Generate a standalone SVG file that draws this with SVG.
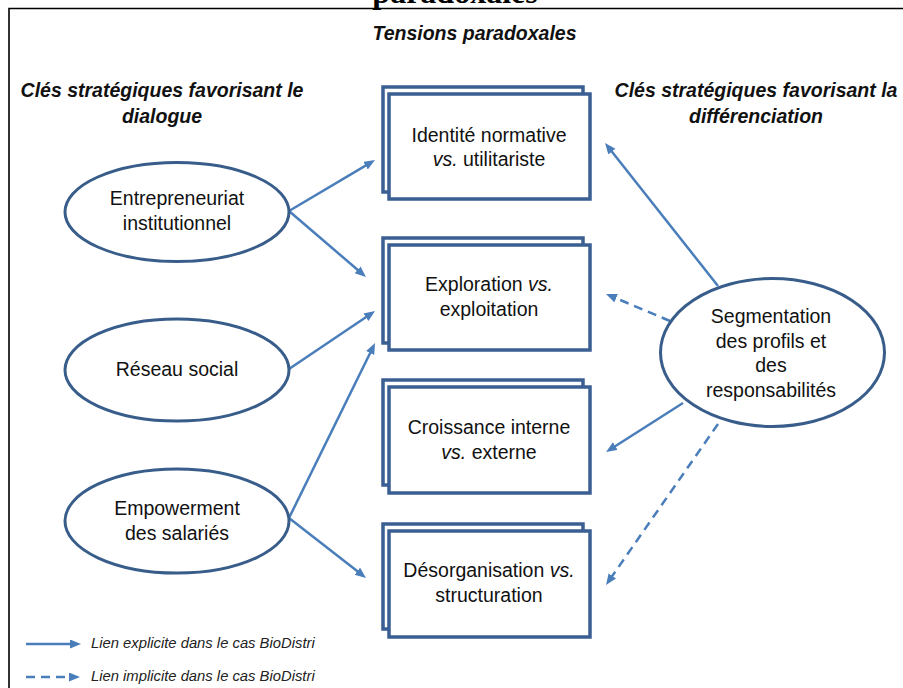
<svg xmlns="http://www.w3.org/2000/svg" width="903" height="688" viewBox="0 0 903 688">
<defs>
<marker id="ah" markerUnits="userSpaceOnUse" markerWidth="12" markerHeight="10" refX="3" refY="4.5" orient="auto">
<path d="M0,0 L11,4.5 L0,9 z" fill="#4A7EBB"/>
</marker>
<style>
.frame{stroke:#000;stroke-width:1.6;fill:none}
.head{font-family:"Liberation Sans",Arial,sans-serif;font-weight:bold;font-style:italic;font-size:19.5px;fill:#111;text-anchor:middle}
.lbl{font-family:"Liberation Sans",Arial,sans-serif;font-size:19.5px;fill:#111;text-anchor:middle}
.it{font-style:italic}
.ell{fill:#fff;stroke:#385D8A;stroke-width:3}
.box{fill:#fff;stroke:#3B5F92;stroke-width:3.5}
.con{stroke:#4A7EBB;stroke-width:2.5;fill:none;marker-end:url(#ah)}
.dash{stroke-dasharray:9,6}
.leg{font-family:"Liberation Sans",Arial,sans-serif;font-style:italic;font-size:14.8px;fill:#222}
</style>
</defs>
<rect width="903" height="688" fill="#fff"/>
<text x="455" y="3" font-family="Liberation Serif,Times New Roman,serif" font-weight="bold" font-size="32" text-anchor="middle" fill="#000">paradoxales</text>
<path class="frame" d="M9,688 L9,8.5 L903,8.5"/>

<text class="head" x="474.5" y="40">Tensions paradoxales</text>
<text class="head" x="162" y="97">Clés stratégiques  favorisant le</text>
<text class="head" x="162" y="123">dialogue</text>
<text class="head" x="756" y="97">Clés stratégiques  favorisant la</text>
<text class="head" x="756" y="123">différenciation</text>

<g id="connectors">
<line class="con" x1="289" y1="211" x2="368.1" y2="164.1"/>
<line class="con" x1="289" y1="211" x2="359.9" y2="271.8"/>
<line class="con" x1="289" y1="369" x2="368.4" y2="315.5"/>
<line class="con" x1="289" y1="518" x2="371.5" y2="350.2"/>
<line class="con" x1="289" y1="518" x2="359.7" y2="573.1"/>
<line class="con" x1="718" y1="286" x2="610" y2="149.3"/>
<line class="con dash" x1="670" y1="321" x2="613.4" y2="297.1"/>
<line class="con" x1="683" y1="403" x2="612.8" y2="447.7"/>
<line class="con dash" x1="718" y1="424" x2="610.6" y2="578.4"/>
</g>

<g id="n-entrepreneuriat">
<ellipse class="ell" cx="177" cy="212" rx="112" ry="49.5"/>
<text class="lbl" x="177" y="205">Entrepreneuriat</text>
<text class="lbl" x="177" y="230">institutionnel</text>
</g>
<g id="n-reseau">
<ellipse class="ell" cx="177" cy="370" rx="112" ry="51"/>
<text class="lbl" x="177" y="376">Réseau social</text>
</g>
<g id="n-empowerment">
<ellipse class="ell" cx="177" cy="521" rx="112" ry="52"/>
<text class="lbl" x="177" y="515">Empowerment</text>
<text class="lbl" x="177" y="540">des salariés</text>
</g>
<g id="n-segmentation">
<ellipse class="ell" cx="772.5" cy="352.5" rx="112" ry="74"/>
<text class="lbl" x="771" y="323">Segmentation</text>
<text class="lbl" x="771" y="348">des profils et</text>
<text class="lbl" x="771" y="372">des</text>
<text class="lbl" x="771" y="397">responsabilités</text>
</g>

<g id="b-identite">
<rect class="box" x="383" y="87" width="200" height="105"/>
<rect class="box" x="389" y="94" width="201" height="105"/>
<text class="lbl" x="489" y="142">Identité normative</text>
<text class="lbl" x="489" y="166"><tspan class="it">vs.</tspan> utilitariste</text>
</g>
<g id="b-exploration">
<rect class="box" x="383" y="238" width="200" height="105"/>
<rect class="box" x="389" y="245" width="201" height="105"/>
<text class="lbl" x="489" y="291">Exploration <tspan class="it">vs.</tspan></text>
<text class="lbl" x="489" y="316">exploitation</text>
</g>
<g id="b-croissance">
<rect class="box" x="383" y="380" width="200" height="105"/>
<rect class="box" x="389" y="387" width="201" height="106"/>
<text class="lbl" x="489" y="434">Croissance interne</text>
<text class="lbl" x="489" y="459"><tspan class="it">vs.</tspan> externe</text>
</g>
<g id="b-desorganisation">
<rect class="box" x="383" y="524" width="200" height="105"/>
<rect class="box" x="389" y="531" width="201" height="106"/>
<text class="lbl" x="489" y="577">Désorganisation <tspan class="it">vs.</tspan></text>
<text class="lbl" x="489" y="602">structuration</text>
</g>

<g id="legend">
<line class="con" x1="26" y1="644" x2="73" y2="644"/>
<text class="leg" x="91" y="648">Lien explicite dans le cas BioDistri</text>
<line class="con dash" x1="26" y1="677" x2="72" y2="677"/>
<text class="leg" x="91" y="681">Lien implicite dans le cas BioDistri</text>
</g>
</svg>
